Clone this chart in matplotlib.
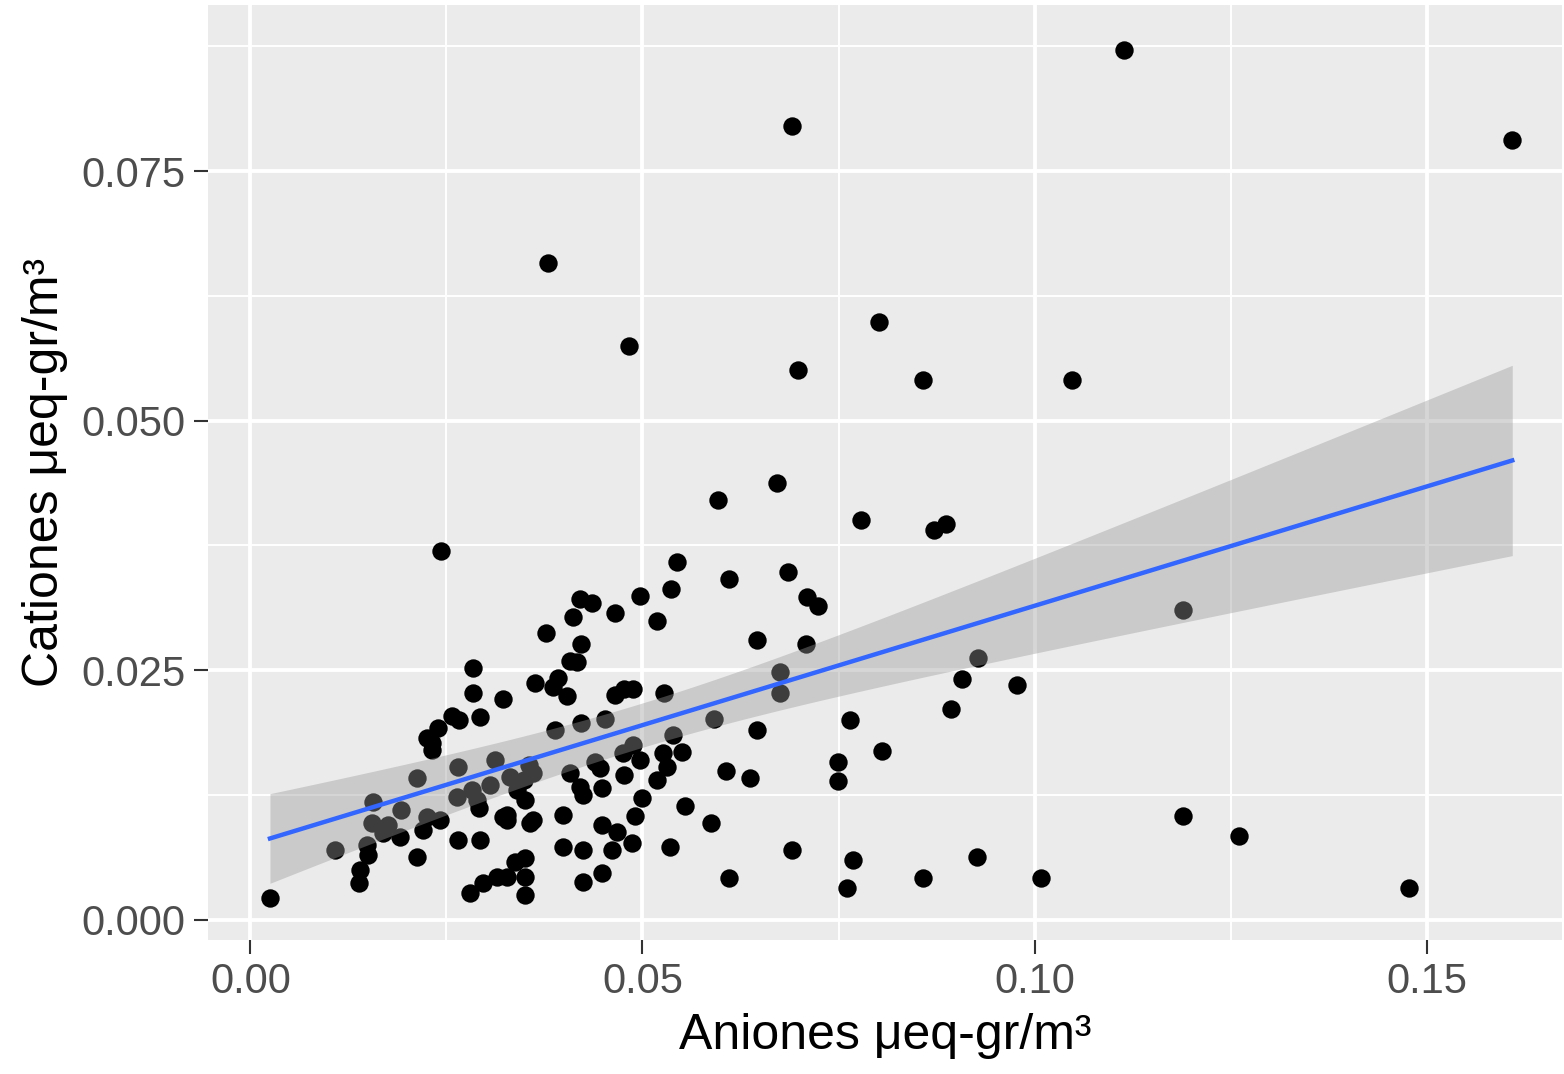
import numpy as np
import matplotlib
matplotlib.use('Agg')
import matplotlib.pyplot as plt

# valores (aniones, cationes en ueq-gr/m3)
aniones = [0.1114, 0.1609, 0.0690, 0.0379, 0.0483, 0.0801, 0.0698, 0.0858, 0.1048, 0.0596,
           0.0672, 0.0778, 0.0872, 0.0887, 0.0243, 0.0544, 0.0610, 0.0685, 0.0710, 0.0724,
           0.0709, 0.0646, 0.1189, 0.0928, 0.0907, 0.0894, 0.0978, 0.0675, 0.0675, 0.0765,
           0.0805, 0.0749, 0.0749, 0.0646, 0.0591, 0.0606, 0.0637, 0.0587, 0.0610, 0.0690,
           0.0768, 0.0761, 0.0858, 0.0926, 0.1008, 0.1189, 0.1261, 0.1477, 0.0025, 0.0497,
           0.0536, 0.0420, 0.0435, 0.0411, 0.0465, 0.0518, 0.0377, 0.0421, 0.0407, 0.0416,
           0.0363, 0.0392, 0.0386, 0.0404, 0.0322, 0.0465, 0.0477, 0.0488, 0.0527, 0.0388,
           0.0421, 0.0452, 0.0539, 0.0284, 0.0284, 0.0257, 0.0266, 0.0293, 0.0239, 0.0225,
           0.0232, 0.0232, 0.0265, 0.0312, 0.0213, 0.0157, 0.0155, 0.0108, 0.0149, 0.0150,
           0.0140, 0.0138, 0.0169, 0.0191, 0.0213, 0.0225, 0.0242, 0.0220, 0.0264, 0.0289,
           0.0265, 0.0293, 0.0322, 0.0327, 0.0280, 0.0297, 0.0315, 0.0488, 0.0475, 0.0497,
           0.0526, 0.0550, 0.0531, 0.0518, 0.0439, 0.0446, 0.0407, 0.0477, 0.0420, 0.0424,
           0.0449, 0.0360, 0.0331, 0.0500, 0.0554, 0.0350, 0.0327, 0.0360, 0.0357, 0.0399,
           0.0490, 0.0449, 0.0467, 0.0486, 0.0399, 0.0424, 0.0461, 0.0535, 0.0350, 0.0350,
           0.0327, 0.0350, 0.0424, 0.0448, 0.0192, 0.0175, 0.0340, 0.0355, 0.0305, 0.0282,
           0.0291, 0.0349, 0.0337]
cationes = [0.0871, 0.0781, 0.0795, 0.0658, 0.0575, 0.0599, 0.0551, 0.0541, 0.0541, 0.0421,
            0.0438, 0.0400, 0.0390, 0.0396, 0.0369, 0.0358, 0.0341, 0.0348, 0.0323, 0.0314,
            0.0276, 0.0280, 0.0310, 0.0262, 0.0241, 0.0211, 0.0235, 0.0248, 0.0227, 0.0200,
            0.0169, 0.0158, 0.0139, 0.0190, 0.0201, 0.0149, 0.0142, 0.0097, 0.0042, 0.0070,
            0.0060, 0.0032, 0.0042, 0.0063, 0.0042, 0.0104, 0.0084, 0.0032, 0.0022, 0.0324,
            0.0331, 0.0321, 0.0317, 0.0303, 0.0307, 0.0299, 0.0287, 0.0276, 0.0259, 0.0258,
            0.0237, 0.0242, 0.0233, 0.0224, 0.0221, 0.0225, 0.0231, 0.0231, 0.0227, 0.0190,
            0.0197, 0.0201, 0.0185, 0.0252, 0.0227, 0.0204, 0.0200, 0.0203, 0.0192, 0.0182,
            0.0177, 0.0170, 0.0153, 0.0160, 0.0142, 0.0118, 0.0097, 0.0070, 0.0075, 0.0065,
            0.0050, 0.0037, 0.0087, 0.0083, 0.0063, 0.0103, 0.0100, 0.0090, 0.0123, 0.0120,
            0.0080, 0.0080, 0.0103, 0.0100, 0.0027, 0.0037, 0.0043, 0.0175, 0.0167, 0.0160,
            0.0167, 0.0168, 0.0153, 0.0140, 0.0158, 0.0152, 0.0147, 0.0145, 0.0133, 0.0125,
            0.0132, 0.0147, 0.0143, 0.0122, 0.0114, 0.0120, 0.0105, 0.0100, 0.0097, 0.0105,
            0.0104, 0.0095, 0.0088, 0.0077, 0.0073, 0.0070, 0.0070, 0.0073, 0.0062, 0.0043,
            0.0043, 0.0025, 0.0038, 0.0047, 0.0110, 0.0095, 0.0130, 0.0155, 0.0135, 0.0130,
            0.0112, 0.0140, 0.0058]

xticks = [0.00, 0.05, 0.10, 0.15]
xlabels = ['0.00', '0.05', '0.10', '0.15']
yticks = [0.000, 0.025, 0.050, 0.075]
ylabels = ['0.000', '0.025', '0.050', '0.075']

x = np.array(aniones)
y = np.array(cationes)

# ajuste lineal + intervalo de confianza 95% (como geom_smooth(method='lm'))
n = len(x)
b, a = np.polyfit(x, y, 1)
res = y - (a + b * x)
s = np.sqrt(np.sum(res ** 2) / (n - 2))
xs = np.linspace(x.min(), x.max(), 80)
ys = a + b * xs
se = s * np.sqrt(1.0 / n + (xs - x.mean()) ** 2 / np.sum((x - x.mean()) ** 2))
t = 1.976

plt.rcParams['font.family'] = ['Liberation Sans', 'DejaVu Sans']
fig = plt.figure(figsize=(15.64, 10.74), dpi=100)
ax = fig.add_axes([0.133, 0.125, 0.866, 0.870])
ax.set_facecolor('#EBEBEB')

ax.scatter(x, y, s=175, color='black', linewidths=0, zorder=3)
ax.fill_between(xs, ys - t * se, ys + t * se, color='#999999', alpha=0.4, linewidth=0, zorder=4)
ax.plot(xs, ys, color='#3366FF', lw=3.2, zorder=5)

ax.set_xlim(-0.0054, 0.1673)
ax.set_ylim(-0.0020, 0.0916)
ax.set_xticks(xticks)
ax.set_xticklabels(xlabels)
ax.set_yticks(yticks)
ax.set_yticklabels(ylabels)
ax.set_xticks([0.025, 0.075, 0.125], minor=True)
ax.set_yticks([0.0125, 0.0375, 0.0625, 0.0875], minor=True)
ax.grid(which='major', color='white', lw=2.8, zorder=0)
ax.grid(which='minor', color='white', lw=1.4, zorder=0)
ax.set_axisbelow(True)
for sp in ax.spines.values():
    sp.set_visible(False)
ax.tick_params(which='major', length=10, width=1.5, color='#333333', labelcolor='#4D4D4D',
               labelsize=30, pad=6)
ax.tick_params(which='minor', length=0)

ax.set_xlabel('Aniones μeq-gr/m³', fontsize=36, color='black', labelpad=8)
ax.set_ylabel('Cationes μeq-gr/m³', fontsize=36, color='black', labelpad=10)

fig.savefig('out.png', dpi=100)
